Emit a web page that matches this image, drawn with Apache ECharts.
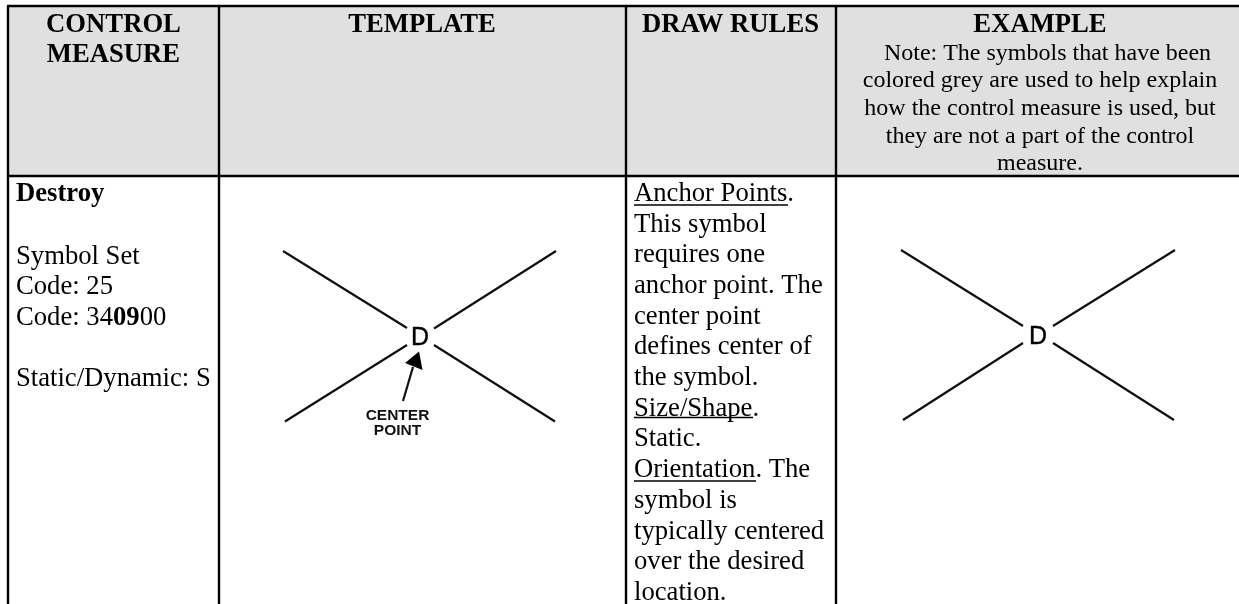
<!DOCTYPE html>
<html><head><meta charset="utf-8">
<style>html,body{margin:0;padding:0;background:#fff}#c{width:1239px;height:604px}</style>
<script src="https://cdn.jsdelivr.net/npm/echarts@6/dist/echarts.min.js"></script>
</head><body><div id="c"></div>
<script>
// ---- table content ----
const columnTitles = ['TEMPLATE', 'DRAW RULES', 'EXAMPLE'];
const measureTitle = ['CONTROL', 'MEASURE'];
const noteLines = ['Note: The symbols that have been', 'colored grey are used to help explain', 'how the control measure is used, but', 'they are not a part of the control', 'measure.'];
const measureName = 'Destroy';
const measureInfo = ['Symbol Set', 'Code: 25'];
const measureStatic = 'Static/Dynamic: S';
const ruleLines = ['Anchor Points.', 'This symbol', 'requires one', 'anchor point. The', 'center point', 'defines center of', 'the symbol.', 'Size/Shape.', 'Static.', 'Orientation. The', 'symbol is', 'typically centered', 'over the desired', 'location.'];
const calloutLines = ['CENTER', 'POINT'];

// ---- table geometry in axis units ----
const columnEdges = [8, 219, 626, 836];
const rowEdges = [6, 176];
const underlines = [[634, 788, 205], [634, 753, 417.5], [634, 756, 481]];
const templateArms = [[[283, 251], [407, 328]], [[556, 251], [434, 328.5]], [[285, 421.5], [407, 345]], [[555, 421.5], [434, 345]]];
const exampleArms = [[[901, 250], [1023, 326]], [[1175, 250], [1053, 326]], [[903, 420], [1023, 343]], [[1174, 420], [1053, 343]]];
const calloutShaft = [[403, 401], [413, 367]];
const calloutHead = [[419, 351.5], [405, 363], [422.5, 370]];

const W = 1239, H = 604;
const serif = '"Liberation Serif","Times New Roman",serif';
const sans = '"Liberation Sans",Arial,sans-serif';
const ink = '#000';

const segLine = (pts, width, color) => ({
  type: 'line', data: pts, symbol: 'none', silent: true, animation: false, clip: false,
  lineStyle: { width: width, color: color || ink, cap: 'butt' }
});

const series = [];
// header band
series.push({
  type: 'custom', silent: true, animation: false, z: 1,
  data: [[rowEdges[0], rowEdges[1]]],
  renderItem(p, api) {
    const a = api.coord([columnEdges[0], api.value(0)]), b = api.coord([W, api.value(1)]);
    return { type: 'rect', shape: { x: a[0], y: a[1], width: b[0] - a[0], height: b[1] - a[1] }, style: { fill: '#e0e0e0' } };
  }
});
// rules
rowEdges.forEach(y => series.push(Object.assign(segLine([[columnEdges[0] - 1, y], [W, y]], 2.4), { z: 3 })));
columnEdges.forEach(x => series.push(Object.assign(segLine([[x, rowEdges[0]], [x, H]], 2.4), { z: 3 })));
underlines.forEach(u => series.push(Object.assign(segLine([[u[0], u[2]], [u[1], u[2]]], 1.4), { z: 3 })));
// X symbols
templateArms.concat(exampleArms).forEach(a => series.push(Object.assign(segLine(a, 2.2, '#111'), { z: 3 })));
series.push(Object.assign(segLine(calloutShaft, 2.2, '#111'), { z: 3 }));
series.push({
  type: 'custom', silent: true, animation: false, z: 3, data: [0],
  renderItem(p, api) {
    return { type: 'polygon', shape: { points: calloutHead.map(c => api.coord(c)) }, style: { fill: '#000' } };
  }
});

// text
const reg = { fontFamily: serif, fontSize: 26.67, fill: '#000' };
const bold = { fontFamily: serif, fontSize: 26.67, fontWeight: 'bold', fill: '#000' };
const note = { fontFamily: serif, fontSize: 24, fill: '#000' };
const texts = [];
const T = (x, y, text, st, align) => texts.push({ x, y, text, st, align: align || 'left' });
T(113.5, 32, measureTitle[0], bold, 'center');
T(113.5, 62, measureTitle[1], bold, 'center');
[422, 730.5, 1040].forEach((x, i) => T(x, 32, columnTitles[i], bold, 'center'));
[[1047.5, 60], [1040, 87.5], [1040, 115], [1040, 143], [1040, 170.5]].forEach((p, i) => T(p[0], p[1], noteLines[i], note, 'center'));
T(16, 201, measureName, Object.assign({}, reg, { fontWeight: 'bold' }));
T(16, 264, measureInfo[0], reg);
T(16, 294.5, measureInfo[1], reg);
T(16, 325, '{a|Code: 34}{b|09}{a|00}', Object.assign({}, reg, { rich: {
  a: { fontFamily: serif, fontSize: reg.fontSize, fill: '#000' },
  b: { fontFamily: serif, fontSize: reg.fontSize, fontWeight: 'bold', fill: '#000' } } }));
T(16, 386, measureStatic, reg);
ruleLines.forEach((s, i) => T(634, 201 + i * 30.7, s, reg));
const symD = { fontFamily: sans, fontSize: 25, fill: '#000', stroke: '#000', lineWidth: 0.4 };
T(420, 346, 'D', symD, 'center');
T(1038, 344.5, 'D', symD, 'center');
const callout = { fontFamily: sans, fontSize: 15.5, fontWeight: 'bold', fill: '#111' };
T(397.5, 421, calloutLines[0], callout, 'center');
T(397.5, 436, calloutLines[1], callout, 'center');

series.push({
  type: 'custom', silent: true, animation: false, z: 5, clip: false,
  data: texts.map((t, i) => [t.x, t.y, i]),
  renderItem(p, api) {
    const t = texts[api.value(2)], c = api.coord([api.value(0), api.value(1)]);
    const mid = t.st.fontFamily === serif ? 0.27 : 0.31;
    return { type: 'text', x: c[0], y: c[1] - t.st.fontSize * mid,
      style: Object.assign({}, t.st, { text: t.text, align: t.align, verticalAlign: 'middle' }) };
  }
});

const chart = echarts.init(document.getElementById('c'), null, { renderer: 'canvas' });
chart.setOption({
  backgroundColor: '#fff', animation: false,
  grid: { left: 0, right: 0, top: 0, bottom: 0 },
  xAxis: { type: 'value', min: 0, max: W, show: false },
  yAxis: { type: 'value', min: 0, max: H, inverse: true, show: false },
  series: series
});
</script></body></html>
